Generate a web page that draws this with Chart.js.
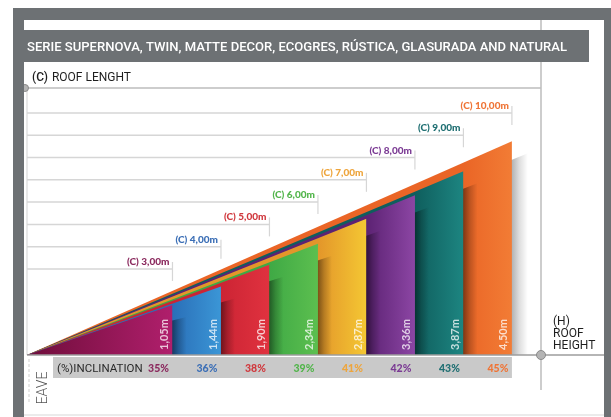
<!DOCTYPE html>
<html lang="en">
<head>
<meta charset="UTF-8">
<title>Roof inclination</title>
<script src="https://cdn.jsdelivr.net/npm/chart.js@4"></script>
<style>
  html, body { margin: 0; padding: 0; background: #fff; }
  canvas { display: block; }
</style>
</head>
<body>

<canvas id="roofChart" width="611" height="417"></canvas>

<script>
    // roof length (C), roof height (H) and inclination for each tile size
    const roofLength = [3, 4, 5, 6, 7, 8, 9, 10];
    const roofHeight = [1.05, 1.44, 1.90, 2.34, 2.87, 3.36, 3.87, 4.50];
    const inclination = [35, 36, 38, 39, 41, 42, 43, 45];

    const title = 'SERIE SUPERNOVA, TWIN, MATTE DECOR, ECOGRES, RÚSTICA, GLASURADA AND NATURAL';

    const colorsDark = ['#6e0d3a', '#2a6fb8', '#cc2434', '#3fa945', '#e3962a', '#5c2273', '#0f5e5d', '#ea6526'];
    const colorsLight = ['#b01f6c', '#3b96d6', '#e0323f', '#5cbf4f', '#f4c733', '#8c46a4', '#1d8581', '#f27c35'];
    const labelColors = ['#8b2a5e', '#3c6fb6', '#d0393e', '#52b54b', '#eea53c', '#7b3b94', '#1f6f72', '#ef7537'];

    const frameGrey = '#6d7174';

    const fmt = v => v.toFixed(2).replace('.', ',');

    function barFill(chart, i) {
        const {ctx, chartArea, scales} = chart;
        if (!chartArea || !scales.x) return colorsLight[i];
        const xa = scales.x.getPixelForValue(i ? roofLength[i - 1] : 0);
        const xb = scales.x.getPixelForValue(roofLength[i]);
        const g = ctx.createLinearGradient(xa, 0, xb, 0);
        g.addColorStop(0, colorsDark[i]);
        g.addColorStop(1, colorsLight[i]);
        return g;
    }

    // soft shadow of one roof triangle, cast to the right (drawn just before that triangle)
    function drawShadow(chart, i, alpha, width) {
        const {ctx, chartArea, scales: {x, y}} = chart;
        const x0 = x.getPixelForValue(0), x1 = x.getPixelForValue(roofLength[i]);
        const y0 = y.getPixelForValue(0), y1 = y.getPixelForValue(roofHeight[i]);
        const g = ctx.createLinearGradient(x1, 0, x1 + width, 0);
        g.addColorStop(0, 'rgba(0,0,0,' + alpha + ')');
        g.addColorStop(0.45, 'rgba(0,0,0,' + alpha * 0.45 + ')');
        g.addColorStop(1, 'rgba(0,0,0,0)');
        ctx.save();
        ctx.beginPath();
        ctx.rect(chartArea.left, chartArea.top, chartArea.width, chartArea.height);
        ctx.clip();
        ctx.fillStyle = g;
        ctx.beginPath();
        ctx.moveTo(x0 + 6, y0);
        ctx.lineTo(x1 + width, y1 + 12);
        ctx.lineTo(x1 + width, y0);
        ctx.closePath();
        ctx.fill();
        ctx.restore();
    }

    function line(ctx, x1, y1, x2, y2, color, width) {
        ctx.beginPath();
        ctx.moveTo(x1, y1);
        ctx.lineTo(x2, y2);
        ctx.strokeStyle = color;
        ctx.lineWidth = width;
        ctx.stroke();
    }

    function circle(ctx, x, y, r) {
        ctx.beginPath();
        ctx.arc(x, y, r, 0, Math.PI * 2);
        ctx.fillStyle = '#b4b4b4';
        ctx.fill();
        ctx.strokeStyle = '#8a8a8a';
        ctx.lineWidth = 1;
        ctx.stroke();
    }

    const infographic = {
        id: 'infographic',
        beforeDraw(chart) {
            const {ctx, chartArea: a, scales: {x, yC}} = chart;
            ctx.save();
            ctx.fillStyle = '#fff';
            ctx.fillRect(0, 0, chart.width, chart.height);

            line(ctx, a.left, a.top, a.left, a.bottom, '#e2e2e2', 1.5);
            line(ctx, a.right, 20, a.right, 390, '#bdbdbd', 1.5);
            line(ctx, 25, a.top, a.right, a.top, '#bdbdbd', 1.5);
            line(ctx, 24, 415, 604, 415, '#e4e4e4', 1.5);

            // end ticks of the roof length guides
            roofLength.forEach(c => {
                const px = x.getPixelForValue(c), py = yC.getPixelForValue(c);
                line(ctx, px, py - 7, px, py + 12, '#d6d6d6', 1.2);
            });

            // inclination band
            ctx.fillStyle = '#c9c9c9';
            ctx.fillRect(53, a.bottom + 2, x.getPixelForValue(10) - 53, 21);
            ctx.restore();
        },
        beforeDatasetsDraw(chart) {
            drawShadow(chart, roofLength.length - 1, 0.3, 16);
        },
        afterDatasetDraw(chart, args) {
            if (args.index >= 1 && args.index < roofLength.length) {
                drawShadow(chart, args.index - 1, 0.45, 14);
            }
        },
        afterDraw(chart) {
            const {ctx, chartArea: a, scales: {x, y, yC}} = chart;
            ctx.save();

            line(ctx, a.left, a.bottom, 605, a.bottom, '#9d9d9d', 1.5);
            circle(ctx, 25, a.top, 3.5);
            circle(ctx, a.right, a.bottom, 4.5);

            // frame
            ctx.fillStyle = frameGrey;
            ctx.fillRect(13, 8, 598, 12);
            ctx.fillRect(13, 8, 11, 409);
            ctx.fillRect(604, 8, 7, 409);

            // title bar
            ctx.fillRect(13, 30, 576, 32);
            ctx.fillStyle = '#fff';
            ctx.font = '500 13.5px Roboto';
            ctx.textBaseline = 'alphabetic';
            const tw = ctx.measureText(title).width;
            ctx.save();
            ctx.translate(27, 51);
            ctx.scale(540 / tw, 1);
            ctx.fillText(title, 0, 0);
            ctx.restore();

            ctx.fillStyle = '#1e1e1e';
            ctx.font = '500 12px Roboto';
            ctx.fillText('(C)', 32, 81);
            ctx.font = '12px Roboto';
            ctx.fillText('ROOF LENGHT', 32 + ctx.measureText('(C) ').width + 1, 81);

            // roof length labels
            ctx.font = '900 10px Lato';
            ctx.textAlign = 'right';
            roofLength.forEach((c, i) => {
                ctx.fillStyle = labelColors[i];
                ctx.fillText('(C) ' + fmt(c) + 'm', x.getPixelForValue(c) - 3, yC.getPixelForValue(c) - 4);
            });

            // roof height values inside the bars
            ctx.font = 'bold 11px Lato';
            ctx.textAlign = 'left';
            ctx.textBaseline = 'middle';
            ctx.fillStyle = 'rgba(255,255,255,0.75)';
            roofHeight.forEach((h, i) => {
                ctx.save();
                ctx.translate(x.getPixelForValue(roofLength[i]) - 8, y.getPixelForValue(0) - 5);
                ctx.rotate(-Math.PI / 2);
                ctx.fillText(fmt(h) + 'm', 0, 0);
                ctx.restore();
            });

            // inclination
            ctx.textBaseline = 'alphabetic';
            ctx.fillStyle = '#2a2a2a';
            ctx.font = '11.5px Roboto';
            ctx.fillText('(%)INCLINATION', 57, 372);
            ctx.font = '900 10.5px Lato';
            ctx.textAlign = 'center';
            inclination.forEach((p, i) => {
                ctx.fillStyle = labelColors[i];
                ctx.fillText(p + '%', x.getPixelForValue(roofLength[i]) - 14, 372);
            });

            // eave
            ctx.setLineDash([3, 2]);
            line(ctx, 29, 359, 29, 402, '#cfcfcf', 1);
            ctx.setLineDash([]);
            ctx.save();
            ctx.translate(47, 388);
            ctx.rotate(-Math.PI / 2);
            ctx.font = '300 14px Roboto';
            ctx.fillStyle = '#555';
            ctx.fillText('EAVE', 0, 0);
            ctx.restore();

            // roof height axis label
            ctx.textAlign = 'left';
            ctx.fillStyle = '#1e1e1e';
            ctx.font = '12px Roboto';
            ctx.fillText('(H)', 553, 325);
            ctx.fillText('ROOF', 553, 337);
            ctx.fillText('HEIGHT', 553, 349);

            ctx.restore();
        }
    };

    const roofSets = roofLength.map((c, i) => ({
        data: [{x: 0, y: 0}, {x: c, y: roofHeight[i]}],
        fill: 'origin',
        borderWidth: 0,
        borderColor: 'transparent',
        pointRadius: 0,
        backgroundColor: ctx => barFill(ctx.chart, i)
    }));

    const guideSets = roofLength.map(c => ({
        data: [{x: 0, y: c}, {x: c, y: c}],
        yAxisID: 'yC',
        borderColor: '#d6d6d6',
        borderWidth: 1.5,
        pointRadius: 0,
        fill: false
    }));

    const chart = new Chart(document.getElementById('roofChart'), {
        type: 'line',
        data: { datasets: [...roofSets, ...guideSets] },
        options: {
            responsive: false,
            animation: false,
            devicePixelRatio: 1,
            events: [],
            layout: { padding: { left: 27, top: 88, right: 70, bottom: 62 } },
            scales: {
                x: { type: 'linear', min: 0, max: 10.6, display: false },
                y: { min: 0, max: 5.62, display: false },
                yC: { min: -0.86, max: 11.12, display: false, position: 'left' }
            },
            plugins: {
                legend: { display: false },
                tooltip: { enabled: false }
            }
        },
        plugins: [infographic]
    });
</script>

</body>
</html>
